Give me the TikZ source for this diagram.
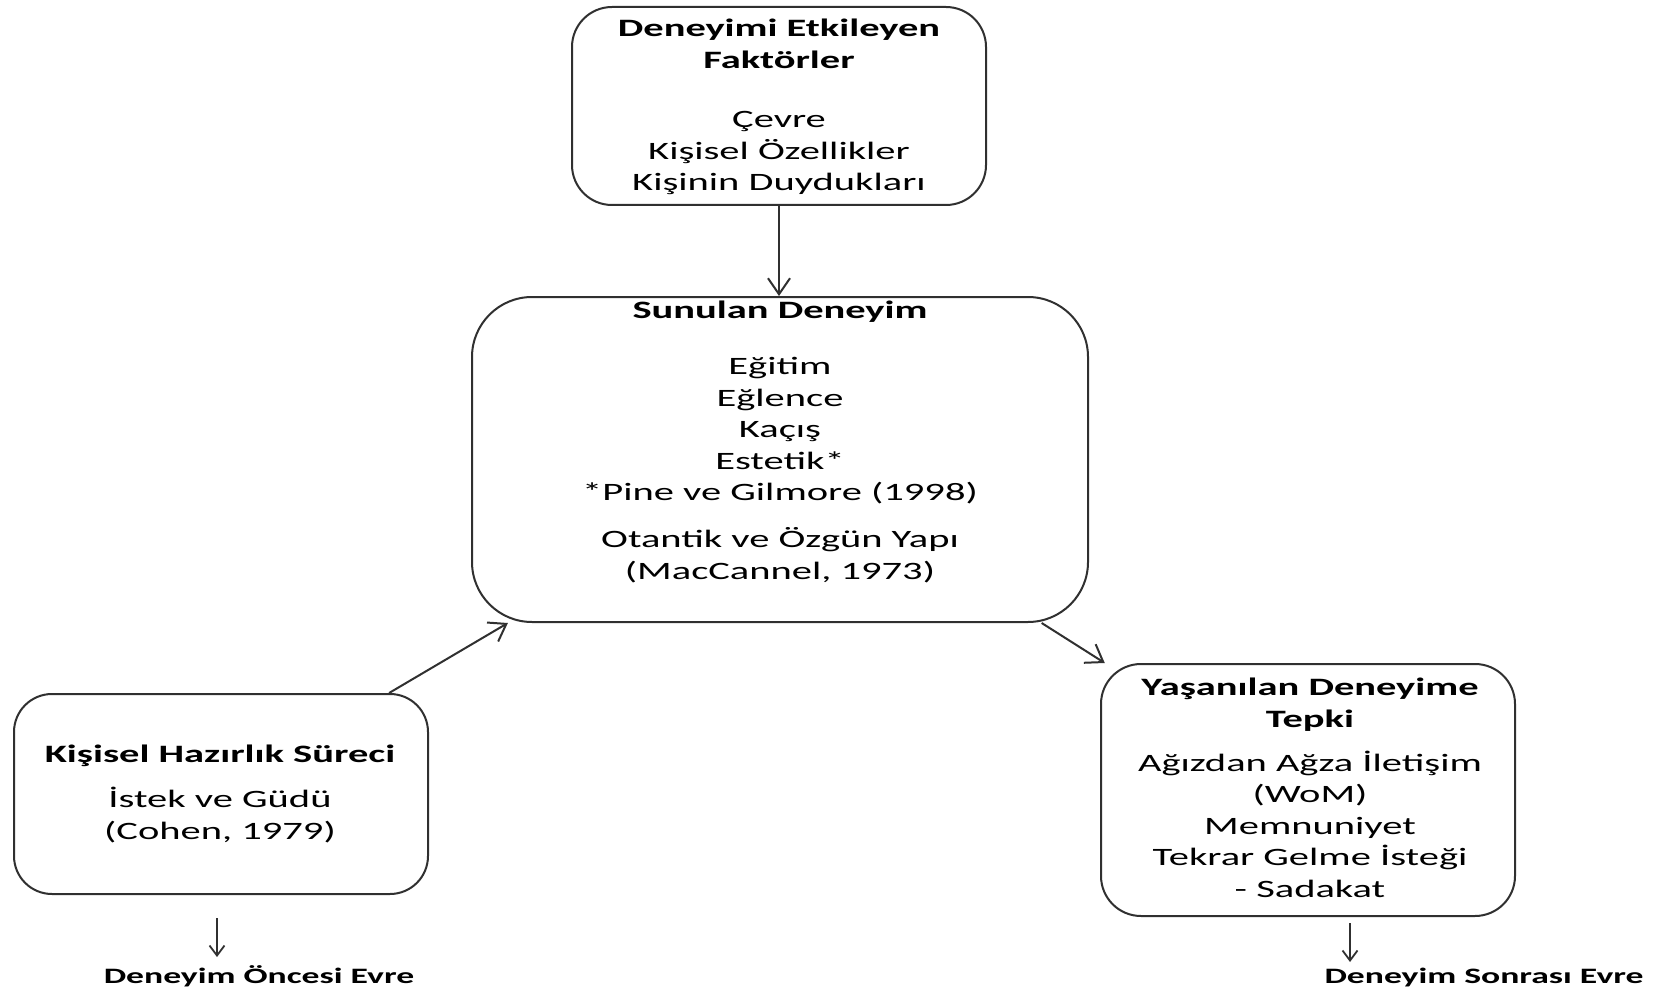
\documentclass[tikz,border=0pt]{standalone}
\usepackage{fontspec}
\setmainfont{Carlito}[FakeStretch=1.62]
\usetikzlibrary{arrows.meta}
\definecolor{edge}{HTML}{303030}
\begin{document}
\begin{tikzpicture}[x=1pt,y=-1pt,
  box/.style={draw=edge, line width=2pt, fill=white, inner sep=0pt},
  txt/.style={align=center, font=\fontsize{25}{31.5}\selectfont, inner sep=0pt, text=black},
  phase/.style={font=\fontsize{22}{26}\selectfont\bfseries, inner sep=0pt, text=black},
  link/.style={draw=edge, line width=2pt, -{Straight Barb[length=16pt,width=22pt]}},
  drop/.style={draw=edge, line width=1.8pt, -{Straight Barb[length=10pt,width=15pt]}}]

\useasboundingbox (0,0) rectangle (1659,992);

% boxes
\node[box, rounded corners=40pt, minimum width=414pt, minimum height=198pt] (faktor) at (779,106) {};
\node[box, rounded corners=60pt, minimum width=616pt, minimum height=325pt] (sunulan) at (780,459.5) {};
\node[box, rounded corners=38pt, minimum width=414pt, minimum height=200pt] (hazirlik) at (221,794) {};
\node[box, rounded corners=40pt, minimum width=414pt, minimum height=252pt] (tepki) at (1308,790) {};

% box contents (anchored at the baseline of the last line)
\node[txt, anchor=base] (faktor-t) at (779,191)
  {\textbf{Deneyimi Etkileyen}\\\textbf{Faktörler}\\[28pt]Çevre\\Kişisel Özellikler\\Kişinin Duydukları};
\node[txt, anchor=base] (sunulan-t) at (780,579)
  {\textbf{Sunulan Deneyim}\\[24.5pt]Eğitim\\Eğlence\\Kaçış\\Estetik*\\*Pine ve Gilmore (1998)\\[15.5pt]Otantik ve Özgün Yapı\\(MacCannel, 1973)};
\node[txt, anchor=base] (hazirlik-t) at (220,839)
  {\textbf{Kişisel Hazırlık Süreci}\\[13.5pt]İstek ve Güdü\\(Cohen, 1979)};
\node[txt, anchor=base] (tepki-t) at (1310,897)
  {\textbf{Yaşanılan Deneyime}\\\textbf{Tepki}\\[12.5pt]Ağızdan Ağza İletişim\\(WoM)\\Memnuniyet\\Tekrar Gelme İsteği\\- Sadakat};

% phase labels
\node[phase, anchor=base] (oncesi) at (259,983) {Deneyim Öncesi Evre};
\node[phase, anchor=base] (sonrasi) at (1484,983) {Deneyim Sonrası Evre};

% connectors
\draw[link] (faktor.south) -- (faktor.south |- sunulan.north);
\draw[link] (hazirlik.31) -- (sunulan.211.5);
\draw[link] (sunulan.-32.3) -- (tepki.148.5);

\coordinate (oncesi-tip) at (217,957);
\coordinate (sonrasi-tip) at (1350,962);
\draw[drop] ([xshift=-4pt,yshift=-23pt]hazirlik.south) -- (oncesi-tip);
\draw[drop] ([xshift=42pt,yshift=-6pt]tepki.south) -- (sonrasi-tip);
\end{tikzpicture}
\end{document}
